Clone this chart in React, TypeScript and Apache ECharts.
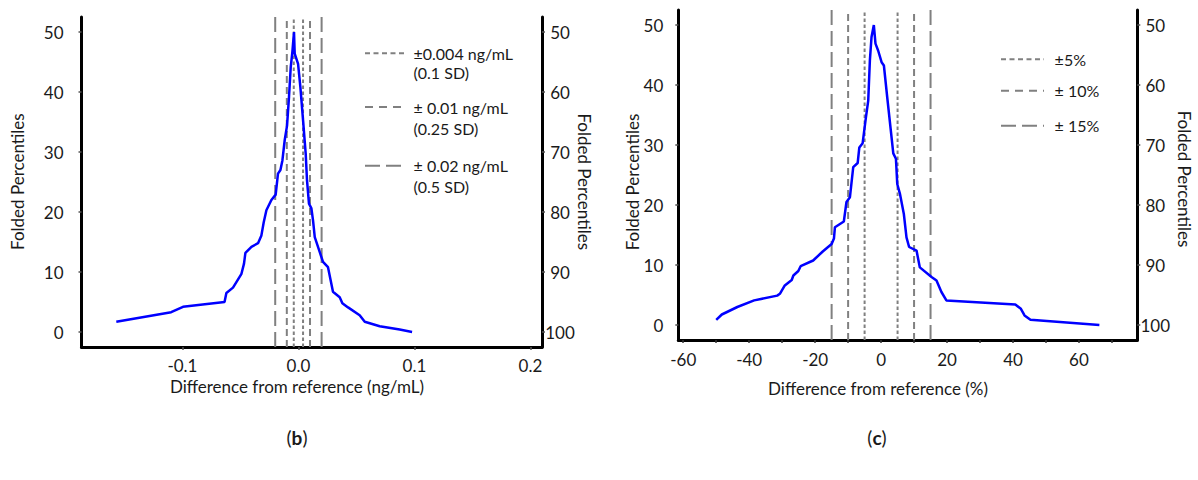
import React, { useEffect, useRef } from "react";
import * as echarts from "echarts";

// ---- Data: panel (b), difference in ng/mL vs folded percentile ----
const bDiff = [-0.157, -0.1097, -0.0995, -0.0637, -0.0621, -0.0564, -0.0491, -0.0469, -0.0457, -0.0405, -0.0348, -0.0319, -0.0299, -0.0276, -0.0233, -0.0196, -0.0176, -0.0155, -0.0138, -0.0118, -0.0098, -0.0081, -0.0066, -0.0052, -0.0038, -0.0032, -0.0003, 0.0017, 0.004, 0.0063, 0.0074, 0.0091, 0.0112, 0.0126, 0.0141, 0.0184, 0.0212, 0.0255, 0.0298, 0.0356, 0.0379, 0.0428, 0.0528, 0.0572, 0.0701, 0.0873, 0.098];
const bPct = [1.7, 3.3, 4.2, 5.0, 6.5, 7.4, 9.7, 11.4, 13.2, 14.2, 14.8, 16.1, 18.3, 20.3, 22.0, 22.9, 26.4, 27.0, 28.6, 32.0, 34.4, 39.2, 44.2, 46.7, 50.0, 46.4, 44.7, 40.8, 35.3, 29.7, 25.3, 21.4, 20.6, 18.6, 15.8, 13.3, 11.7, 10.8, 6.7, 5.8, 4.8, 4.1, 2.8, 1.7, 0.95, 0.4, 0];

// ---- Data: panel (c), difference in % vs folded percentile ----
const cDiff = [-50.0, -48.3, -43.6, -38.5, -31.5, -30.7, -29.2, -27.1, -26.6, -25.1, -24.4, -20.6, -17.7, -15.0, -14.3, -14.0, -11.3, -10.5, -9.45, -8.45, -7.1, -6.6, -5.6, -4.6, -3.9, -3.4, -2.9, -2.2, -1.7, -0.9, 0.15, 0.85, 1.85, 3.7, 4.5, 4.9, 5.7, 6.9, 7.7, 8.5, 10.75, 11.75, 15.3, 16.8, 18.3, 19.8, 40.7, 42.4, 43.5, 45.3, 66.2];
const cPct = [0.85, 1.75, 3.0, 4.1, 4.9, 5.2, 6.6, 7.5, 8.25, 9.0, 9.8, 10.75, 12.25, 13.5, 14.4, 16.3, 17.25, 20.5, 21.3, 26.3, 27.0, 29.6, 30.3, 34.6, 37.4, 44.1, 48.0, 50.0, 46.9, 45.75, 43.8, 43.25, 38.0, 28.6, 27.7, 23.5, 21.9, 18.5, 14.6, 13.0, 12.4, 9.6, 8.0, 7.4, 5.5, 4.1, 3.4, 2.7, 1.6, 0.87, 0];

// ---- Reference limits ----
const bLimits = [0.004, 0.01, 0.02];
const cLimits = [5, 10, 15];
const bLegend = [["±0.004 ng/mL", "(0.1 SD)"], ["± 0.01 ng/mL", "(0.25 SD)"], ["± 0.02 ng/mL", "(0.5 SD)"]];
const cLegend = ["±5%", "± 10%", "± 15%"];

// ---- Ticks ----
const bXTicks = [-0.1, 0.0, 0.1, 0.2];
const cXLabels = [-60, -40, -20, 0, 20, 40, 60];
const cXTicks = [-60, -50, -40, -30, -20, -10, 0, 10, 20, 30, 40, 50, 60, 70];
const leftTicks = [0, 10, 20, 30, 40, 50];
const rightTicks = [50, 60, 70, 80, 90, 100];

const FONT = "Lato";
const TXT = "#1a1a1a";
const DASHES = [[3.5, 2.5], [7, 4], [15, 6]];
const LEG_DASHES = [[5, 3.5], [8, 6], [15, 6]];

export default function App() {
  const ref = useRef<HTMLDivElement>(null);
  useEffect(() => {
    const chart = echarts.init(ref.current!, null, { renderer: "svg" });

    const axisLine = { show: true, onZero: false, lineStyle: { color: "#000", width: 3 } };
    const label = (extra: any) => ({ fontFamily: FONT, fontSize: 17, color: TXT, ...extra });

    const xAxis = [
      {
        gridIndex: 0, type: "value", min: -0.187, max: 0.21,
        axisLine, splitLine: { show: false },
        axisTick: { show: true, customValues: bXTicks, length: 3, lineStyle: { color: "#555", width: 1.5 } },
        axisLabel: label({ customValues: bXTicks, margin: 10, formatter: (v: number) => v.toFixed(1) }),
      },
      {
        gridIndex: 1, type: "value", min: -61.5, max: 77.7,
        axisLine, splitLine: { show: false },
        axisTick: { show: true, customValues: cXTicks, length: 3, lineStyle: { color: "#333", width: 1.5 } },
        axisLabel: label({ customValues: cXLabels, margin: 11, formatter: (v: number) => String(v) }),
      },
    ];
    const yAxis = [
      {
        gridIndex: 0, type: "value", position: "left", min: -2.5, max: 52.5,
        axisLine, splitLine: { show: false },
        axisTick: { show: true, customValues: leftTicks, length: 3, lineStyle: { color: "#555", width: 1.5 } },
        axisLabel: label({ customValues: leftTicks, margin: 18 }),
      },
      {
        gridIndex: 0, type: "value", position: "right", min: 47.5, max: 102.5, inverse: true,
        axisLine, splitLine: { show: false },
        axisTick: { show: true, customValues: rightTicks, length: 3, lineStyle: { color: "#555", width: 1.5 } },
        axisLabel: label({ customValues: rightTicks, margin: 18, align: "center" }),
      },
      {
        gridIndex: 1, type: "value", position: "left", min: -2.5, max: 52.5,
        axisLine, splitLine: { show: false },
        axisTick: { show: true, customValues: leftTicks, length: 3, lineStyle: { color: "#555", width: 1.5 } },
        axisLabel: label({ customValues: leftTicks, margin: 15 }),
      },
      {
        gridIndex: 1, type: "value", position: "right", min: 47.5, max: 102.5, inverse: true,
        axisLine, splitLine: { show: false },
        axisTick: { show: true, customValues: rightTicks, length: 3, lineStyle: { color: "#555", width: 1.5 } },
        axisLabel: label({ customValues: rightTicks, margin: 18, align: "center" }),
      },
    ];

    const series: any[] = [];
    const addLimits = (limits: number[], xi: number, yi: number) => {
      limits.forEach((lim, i) => {
        [-lim, lim].forEach((x) => {
          series.push({
            type: "line", xAxisIndex: xi, yAxisIndex: yi, symbol: "none", silent: true,
            data: [[x, -2.5], [x, 52.5]],
            lineStyle: { color: "#808080", width: 2, type: DASHES[i] },
            z: 1,
          });
        });
      });
    };
    addLimits(bLimits, 0, 0);
    addLimits(cLimits, 1, 2);
    series.push({
      type: "line", xAxisIndex: 0, yAxisIndex: 0, symbol: "none", silent: true,
      data: bDiff.map((d, i) => [d, bPct[i]]),
      lineStyle: { color: "#0000ff", width: 2.5 }, z: 3,
    });
    series.push({
      type: "line", xAxisIndex: 1, yAxisIndex: 2, symbol: "none", silent: true,
      data: cDiff.map((d, i) => [d, cPct[i]]),
      lineStyle: { color: "#0000ff", width: 2.5 }, z: 3,
    });

    const txt = (x: number, y: number, text: string, opts: any = {}) => ({
      type: "text", x, y, rotation: opts.rotation || 0,
      style: {
        text, fill: TXT, fontFamily: FONT, fontSize: opts.fontSize || 17,
        align: opts.align || "left", textAlign: opts.align || "left",
        verticalAlign: "middle", textVerticalAlign: "middle",
        rich: opts.rich,
      },
    });
    const legLine = (x1: number, x2: number, y: number, dash: number[]) => ({
      type: "line", shape: { x1, y1: y, x2, y2: y },
      style: { stroke: "#808080", lineWidth: 2, lineDash: dash },
    });

    const graphics: any[] = [];
    const bRows = [[53.3, 72.5], [107, 128.3], [165.7, 186.7]];
    bLegend.forEach((lines, i) => {
      graphics.push(legLine(365, 406, bRows[i][0], LEG_DASHES[i]));
      graphics.push(txt(413.5, bRows[i][0], lines[0], { fontSize: 16 }));
      graphics.push(txt(413.5, bRows[i][1], lines[1], { fontSize: 16 }));
    });
    const cRows = [59.3, 90.7, 125.7];
    cLegend.forEach((t, i) => {
      graphics.push(legLine(1001, 1044, cRows[i], LEG_DASHES[i]));
      graphics.push(txt(1054.6, cRows[i], t, { fontSize: 16 }));
    });
    // axis titles
    graphics.push(txt(297, 386.7, "Difference from reference (ng/mL)", { align: "center" }));
    graphics.push(txt(878, 388, "Difference from reference (%)", { align: "center" }));
    graphics.push(txt(17, 181.7, "Folded Percentiles", { align: "center", rotation: Math.PI / 2 }));
    graphics.push(txt(584, 181.7, "Folded Percentiles", { align: "center", rotation: -Math.PI / 2 }));
    graphics.push(txt(632, 182, "Folded Percentiles", { align: "center", rotation: Math.PI / 2 }));
    graphics.push(txt(1184, 179, "Folded Percentiles", { align: "center", rotation: -Math.PI / 2 }));
    // panel labels
    const rich = { b: { fontFamily: FONT, fontSize: 19, fontWeight: "bold", fill: TXT, color: TXT } };
    graphics.push(txt(297, 437, "({b|b})", { align: "center", fontSize: 19, rich }));
    graphics.push(txt(877, 437, "({b|c})", { align: "center", fontSize: 19, rich }));

    chart.setOption({
      animation: false,
      backgroundColor: "#fff",
      grid: [
        { left: 81.5, top: 17, width: 460.5, height: 330 },
        { left: 678.3, top: 10, width: 459, height: 330 },
      ],
      xAxis, yAxis, series,
      graphic: { elements: graphics },
    });
    return () => chart.dispose();
  }, []);
  return (
    <div
      ref={ref}
      style={{ position: "fixed", left: 0, top: 0, width: 1198, height: 480, background: "#fff" }}
    />
  );
}
